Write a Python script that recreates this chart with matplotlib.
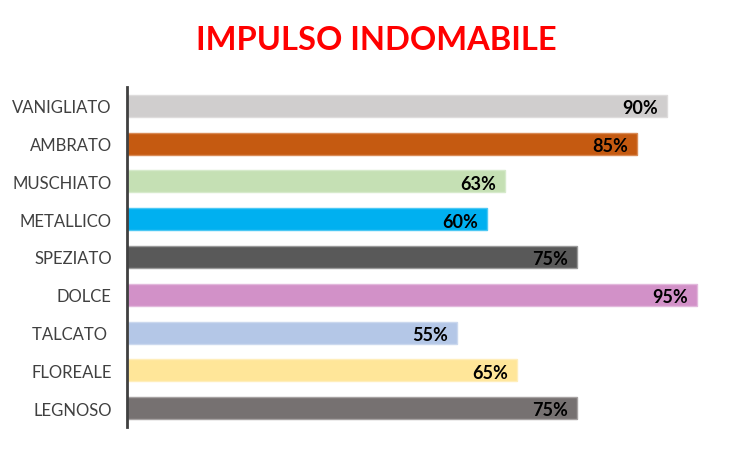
import numpy as np
import matplotlib.pyplot as plt

categories = ['VANIGLIATO', 'AMBRATO', 'MUSCHIATO', 'METALLICO', 'SPEZIATO',
              'DOLCE', 'TALCATO ', 'FLOREALE', 'LEGNOSO']
values = [90, 85, 63, 60, 75, 95, 55, 65, 75]
colors = ['#D0CECE', '#C55A11', '#C5E0B4', '#00B0F0', '#595959',
          '#D291C8', '#B4C7E7', '#FFE699', '#767171']
edge_colors = ['#DEDCDC', '#D98A55', '#D6EACB', '#4CC8F4', '#9A9A9A',
               '#E2B8DC', '#CBD8EE', '#FFEEBB', '#A6A2A2']

plt.rcParams['font.family'] = ['Lato', 'DejaVu Sans']

fig = plt.figure(figsize=(7.52, 4.52), dpi=100)
ax = fig.add_axes([127 / 752, 1 - 428 / 452, 600 / 752, 340 / 452])

y = np.arange(len(categories))
ax.barh(y, values, height=0.58, color=colors, edgecolor=edge_colors, linewidth=1)
ax.set_ylim(len(categories) - 0.5, -0.5)
ax.set_xlim(0, 100)

for yi, v in zip(y, values):
    ax.text(v - 1.5, yi + 0.05, f'{v}%', ha='right', va='center',
            fontsize=13, fontweight='bold', color='black')

ax.set_yticks(y)
ax.set_yticklabels(categories, fontsize=12, color='#404040')
ax.tick_params(axis='y', length=0, pad=11)
ax.set_xticks([])
for s in ['top', 'right', 'bottom']:
    ax.spines[s].set_visible(False)
ax.spines['left'].set_color('#404040')
ax.spines['left'].set_linewidth(2)

fig.text(376 / 752, 1 - 40 / 452, 'IMPULSO INDOMABILE', ha='center', va='center',
         fontsize=23.5, fontweight='bold', color='#FF0000')

fig.savefig('out.png', dpi=100)
